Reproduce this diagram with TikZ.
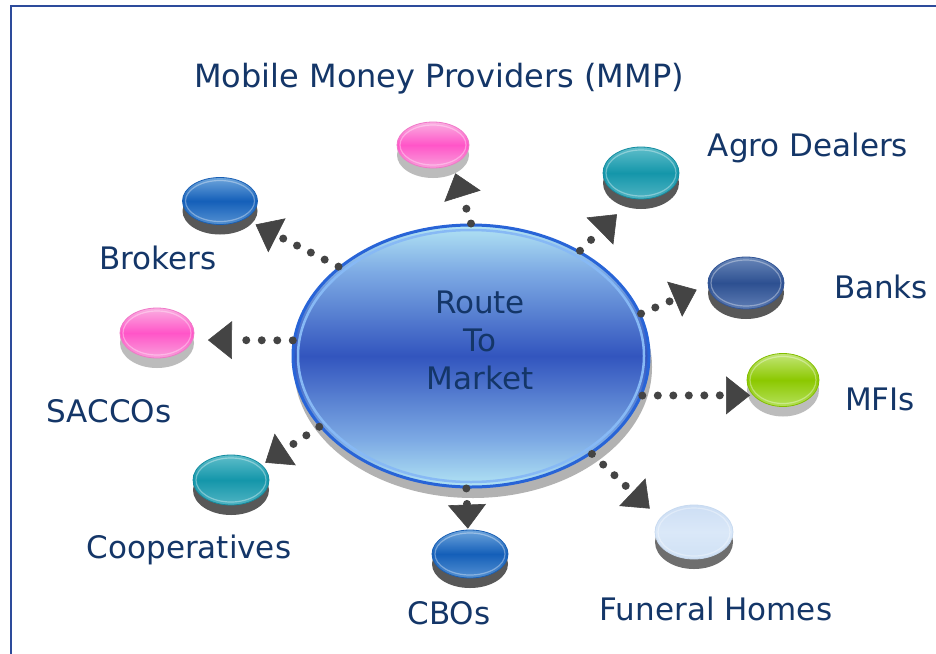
\documentclass[tikz,border=0pt]{standalone}
\usepackage{fontspec}
\setmainfont{DejaVu Sans}
\usetikzlibrary{arrows.meta,shapes.geometric,calc}
\definecolor{txtcol}{RGB}{20,54,104}
\definecolor{framecol}{RGB}{45,75,155}
\definecolor{dotcol}{RGB}{68,68,68}
\definecolor{rtmL}{RGB}{178,228,244}
\definecolor{rtmL2}{RGB}{125,170,228}
\definecolor{rtmD}{RGB}{50,85,190}
\definecolor{rtmB}{RGB}{40,100,215}
\definecolor{rtmRing}{RGB}{135,185,245}
\definecolor{rtmShadow}{RGB}{178,178,178}
\definecolor{pinkT}{RGB}{250,175,225}\definecolor{pinkM}{RGB}{255,85,200}\definecolor{pinkBo}{RGB}{250,160,220}\definecolor{pinkE}{RGB}{240,120,200}
\definecolor{tealT}{RGB}{95,190,202}\definecolor{tealM}{RGB}{20,150,170}\definecolor{tealBo}{RGB}{80,180,195}\definecolor{tealE}{RGB}{20,140,160}
\definecolor{blueT}{RGB}{110,165,220}\definecolor{blueM}{RGB}{20,95,185}\definecolor{blueBo}{RGB}{85,145,210}\definecolor{blueE}{RGB}{25,95,180}
\definecolor{navyT}{RGB}{105,135,185}\definecolor{navyM}{RGB}{45,80,145}\definecolor{navyBo}{RGB}{95,125,180}\definecolor{navyE}{RGB}{50,85,150}
\definecolor{greenT}{RGB}{195,230,120}\definecolor{greenM}{RGB}{140,200,0}\definecolor{greenBo}{RGB}{180,225,90}\definecolor{greenE}{RGB}{130,190,0}
\definecolor{paleT}{RGB}{205,222,244}\definecolor{paleM}{RGB}{218,232,248}\definecolor{paleBo}{RGB}{208,225,245}\definecolor{paleE}{RGB}{200,218,240}
\definecolor{shLight}{RGB}{188,188,188}
\definecolor{shDark}{RGB}{88,88,88}
\definecolor{shMid}{RGB}{110,110,110}
\pgfdeclareverticalshading{rtmshade}{100bp}{color(0bp)=(rtmL); color(25bp)=(rtmL); color(34bp)=(rtmL2); color(50bp)=(rtmD); color(66bp)=(rtmL2); color(75bp)=(rtmL); color(100bp)=(rtmL)}
\newcommand\rtmdisc[7]{%
  \fill[#7] (#2,{#3+10}) ellipse [x radius={#4/2}, y radius={#5/2}];
  \node[rdisc, #6, minimum width=#4, minimum height=#5] (#1) at (#2,#3) {};
}
\begin{document}
\begin{tikzpicture}[x=1pt,y=-1pt,
  lbl/.style={font=\fontsize{31}{38}\selectfont, text=txtcol, inner sep=0pt, anchor=base},
  discring/.style={path picture={\draw[white, opacity=0.35, line width=1.2pt]
     let \p1=(path picture bounding box.north east), \p2=(path picture bounding box.center) in
     (\p2) ellipse [x radius={\x1-\x2-3pt}, y radius={\y1-\y2-3pt}];}},
  rdisc/.style={ellipse, inner sep=0pt, line width=0.8pt, discring},
  pinkdisc/.style={draw=pinkE, top color=pinkT, bottom color=pinkBo, middle color=pinkM},
  tealdisc/.style={draw=tealE, top color=tealT, bottom color=tealBo, middle color=tealM},
  bluedisc/.style={draw=blueE, top color=blueT, bottom color=blueBo, middle color=blueM},
  navydisc/.style={draw=navyE, top color=navyT, bottom color=navyBo, middle color=navyM},
  greendisc/.style={draw=greenE, top color=greenT, bottom color=greenBo, middle color=greenM},
  paledisc/.style={draw=paleE, top color=paleT, bottom color=paleBo, middle color=paleM},
  dotarrow/.style={draw=dotcol, line width=8pt, line cap=round, dash pattern=on 0pt off 15.5pt,
     -{Triangle[length=24pt,width=38pt,line width=0.6pt]}},
  hub/.style={ellipse, inner sep=0pt, minimum width=356, minimum height=262, draw=rtmB,
     line width=3pt, shading=rtmshade,
     path picture={\draw[rtmRing, line width=2.5pt] (path picture bounding box.center) ellipse [x radius=173, y radius=126];}}
]
\useasboundingbox (0,0) rectangle (936,653);
\fill[white] (0,0) rectangle (936,653);
\draw[framecol, line width=2.5pt] (11,680) -- (11,6) -- (960,6);

% central hub
\fill[rtmShadow] (473,367) ellipse [x radius=179, y radius=131];
\node[hub] (c) at (471,356) {};
\node[lbl, anchor=center, align=center] (rtm) at (480,340) {Route\\To\\Market};

% discs
\rtmdisc{mmp}{433}{145}{72}{46}{pinkdisc}{shLight}
\rtmdisc{agro}{641}{173}{76}{52}{tealdisc}{shDark}
\rtmdisc{brokers}{220}{201}{75}{47}{bluedisc}{shDark}
\rtmdisc{banks}{746}{283}{76}{52}{navydisc}{shDark}
\rtmdisc{saccos}{157}{333}{74}{50}{pinkdisc}{shLight}
\rtmdisc{mfis}{783}{380}{72}{53}{greendisc}{shLight}
\rtmdisc{coop}{231}{480}{76}{50}{tealdisc}{shDark}
\rtmdisc{cbos}{470}{554}{76}{48}{bluedisc}{shDark}
\rtmdisc{funeral}{694}{532}{78}{54}{paledisc}{shMid}

% labels
\node[lbl, font=\fontsize{32}{38}\selectfont] (lmmp) at (439,87) {Mobile Money Providers (MMP)};
\node[lbl] (lagro) at (808,156) {Agro Dealers};
\node[lbl] (lbrokers) at (158,269) {Brokers};
\node[lbl] (lbanks) at (881,298) {Banks};
\node[lbl] (lsaccos) at (109,422) {SACCOs};
\node[lbl] (lmfis) at (880,410) {MFIs};
\node[lbl] (lcoop) at (189,558) {Cooperatives};
\node[lbl] (lcbos) at (449,624) {CBOs};
\node[lbl] (lfuneral) at (716,620) {Funeral Homes};

% arrows
\draw[dotarrow, shorten >=9pt] (c.90) -- (mmp.-45);
\draw[dotarrow, shorten >=22pt] (c.44) -- (agro.252);
\draw[dotarrow, shorten >=12pt] (c.14) -- (banks.183);
\draw[dotarrow, shorten >=3pt] (c.-13) -- (mfis.-153);
\draw[dotarrow, shorten >=14pt] (c.-39) -- (funeral.158);
\draw[dotarrow, shorten >=1pt] (c.-92) -- (cbos.95);
\draw[dotarrow, shorten >=4pt] (c.205.5) -- (coop.26);
\draw[dotarrow, shorten >=15pt] (c.175) -- (saccos.-11);
\draw[dotarrow, shorten >=12pt] (c.146) -- (brokers.-36);
\end{tikzpicture}
\end{document}
